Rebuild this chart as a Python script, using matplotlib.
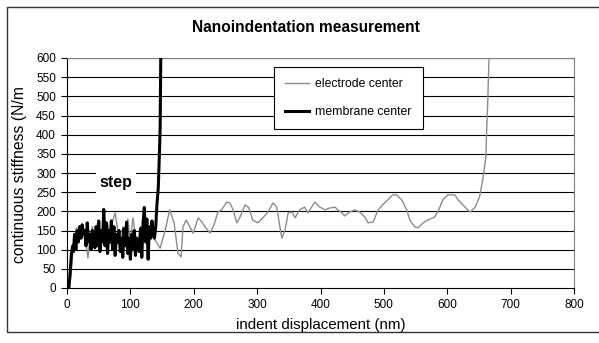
import matplotlib
matplotlib.use("Agg")
import matplotlib.pyplot as plt
from matplotlib.patches import Rectangle
from matplotlib.transforms import Bbox, TransformedBbox

plt.rcParams["font.family"] = ["Liberation Sans", "DejaVu Sans"]

# electrode center (grey, thin)
electrode_x = [
    3, 6, 9, 12, 15, 18, 21, 24, 27, 30,
    33, 36, 40, 44, 48, 52, 56, 60, 64, 68,
    72, 76, 80, 84, 88, 92, 96, 100, 104, 108,
    112, 116, 120, 124, 128, 132, 136, 139, 147, 155,
    162, 169, 175, 180, 183, 188, 192, 199, 207, 213,
    218, 226, 233, 238, 244, 252, 257, 262, 268, 273,
    281, 287, 293, 301, 309, 317, 325, 331, 336, 339,
    344, 349, 355, 360, 367, 375, 380, 386, 391, 399,
    407, 415, 423, 427, 434, 438, 446, 454, 462, 470,
    475, 483, 491, 498, 506, 514, 520, 528, 536, 541,
    549, 554, 562, 569, 580, 585, 593, 601, 612, 617,
    628, 636, 644, 651, 656, 661, 662, 664, 666,
]
electrode_y = [
    0, 30, 90, 120, 157, 140, 160, 130, 150, 120,
    78, 130, 160, 110, 170, 130, 150, 120, 170, 140,
    175, 196, 150, 110, 160, 130, 180, 120, 183, 140,
    110, 160, 120, 170, 130, 150, 135, 125, 104, 151,
    204, 170, 91, 81, 159, 177, 165, 143, 183, 172,
    159, 143, 170, 198, 204, 224, 222, 204, 170, 185,
    217, 209, 177, 170, 183, 198, 222, 211, 159, 130,
    151, 196, 198, 183, 204, 211, 196, 211, 224, 211,
    204, 209, 211, 204, 196, 188, 198, 204, 198, 185,
    170, 172, 204, 217, 230, 243, 243, 230, 204, 177,
    159, 157, 170, 177, 185, 198, 230, 243, 243, 230,
    211, 198, 211, 238, 282, 342, 404, 490, 610,
]

# membrane center (black, thick)
membrane_x = [
    3, 5, 7, 9, 10, 12, 14, 16, 18, 20,
    22, 24, 26, 28, 30, 32, 34, 36, 38, 40,
    42, 44, 46, 48, 50, 52, 54, 56, 58, 60,
    62, 64, 66, 68, 70, 72, 74, 76, 78, 80,
    82, 84, 86, 88, 90, 92, 94, 96, 98, 100,
    102, 104, 106, 108, 110, 112, 114, 116, 118, 120,
    122, 124, 126, 128, 130, 132, 134, 136, 138, 140,
    142, 144, 145, 146, 147, 148,
]
membrane_y = [
    0, 40, 90, 110, 95, 140, 100, 150, 120, 160,
    130, 165, 140, 150, 110, 170, 120, 140, 100, 150,
    130, 105, 160, 110, 175, 95, 150, 120, 205, 110,
    170, 90, 150, 120, 175, 100, 160, 85, 140, 120,
    150, 95, 130, 80, 155, 110, 172, 90, 130, 75,
    140, 100, 150, 85, 130, 110, 95, 155, 80, 170,
    210, 120, 180, 75, 160, 130, 175, 140, 130, 160,
    220, 260, 310, 360, 420, 610,
]

x_ticks = [0, 100, 200, 300, 400, 500, 600, 700, 800]
y_ticks = list(range(0, 601, 50))

fig = plt.figure(figsize=(5.99, 3.43), dpi=100)
ax = fig.add_axes([67 / 599, 1 - 288 / 343, 507 / 599, 230 / 343])

# outer chart border
fig.patches.append(Rectangle((7 / 599, 1 - 332 / 343), 1.0, 325 / 343,
                             transform=fig.transFigure, fill=False,
                             edgecolor="#333333", linewidth=1.0))

for yv in y_ticks[1:]:
    ax.axhline(yv, color="black", linewidth=0.8, zorder=1)

ax.plot(electrode_x, electrode_y, color="#8c8c8c", linewidth=1.0,
        label="electrode center", zorder=3)
ax.plot(membrane_x, membrane_y, color="black", linewidth=2.2,
        label="membrane center", zorder=4)

ax.set_xlim(0, 800)
ax.set_ylim(0, 600)
ax.set_xticks(x_ticks)
ax.set_yticks(y_ticks)
ax.tick_params(direction="out", length=4, width=0.8, labelsize=8.5,
               colors="black", pad=4)

for side in ["top", "right"]:
    ax.spines[side].set_color("#808080")
    ax.spines[side].set_linewidth(0.8)
for side in ["left", "bottom"]:
    ax.spines[side].set_color("black")
    ax.spines[side].set_linewidth(0.8)

ax.text(77, 274, "step", fontsize=11.5, fontweight="bold", ha="center",
        va="center", zorder=5,
        bbox=dict(facecolor="white", edgecolor="none", pad=2.5))

leg = ax.legend(loc="upper left", bbox_to_anchor=(0.408, 0.961),
                borderaxespad=0, fontsize=8.8, frameon=True, fancybox=False,
                edgecolor="black", framealpha=1, handlelength=2.0,
                labelspacing=1.3, borderpad=0.9, handletextpad=0.5)
leg.get_frame().set_linewidth(0.8)

fig.text(306 / 599, 1 - 28 / 343, "Nanoindentation measurement",
         fontsize=11.2, fontweight="bold", ha="center", va="center")
fig.text(321 / 599, 1 - 325 / 343, "indent displacement (nm)",
         fontsize=10.9, ha="center", va="center")

ylab = fig.text(20 / 599, 1 - 172 / 343, "continuous stiffness (N/m)",
                fontsize=11.3, rotation=90, ha="center", va="center")
ylab.set_clip_box(TransformedBbox(Bbox([[0, 0], [0.1, 1 - 88 / 343]]),
                                  fig.transFigure))
ylab.set_clip_on(True)

fig.savefig("out.png", dpi=100)
